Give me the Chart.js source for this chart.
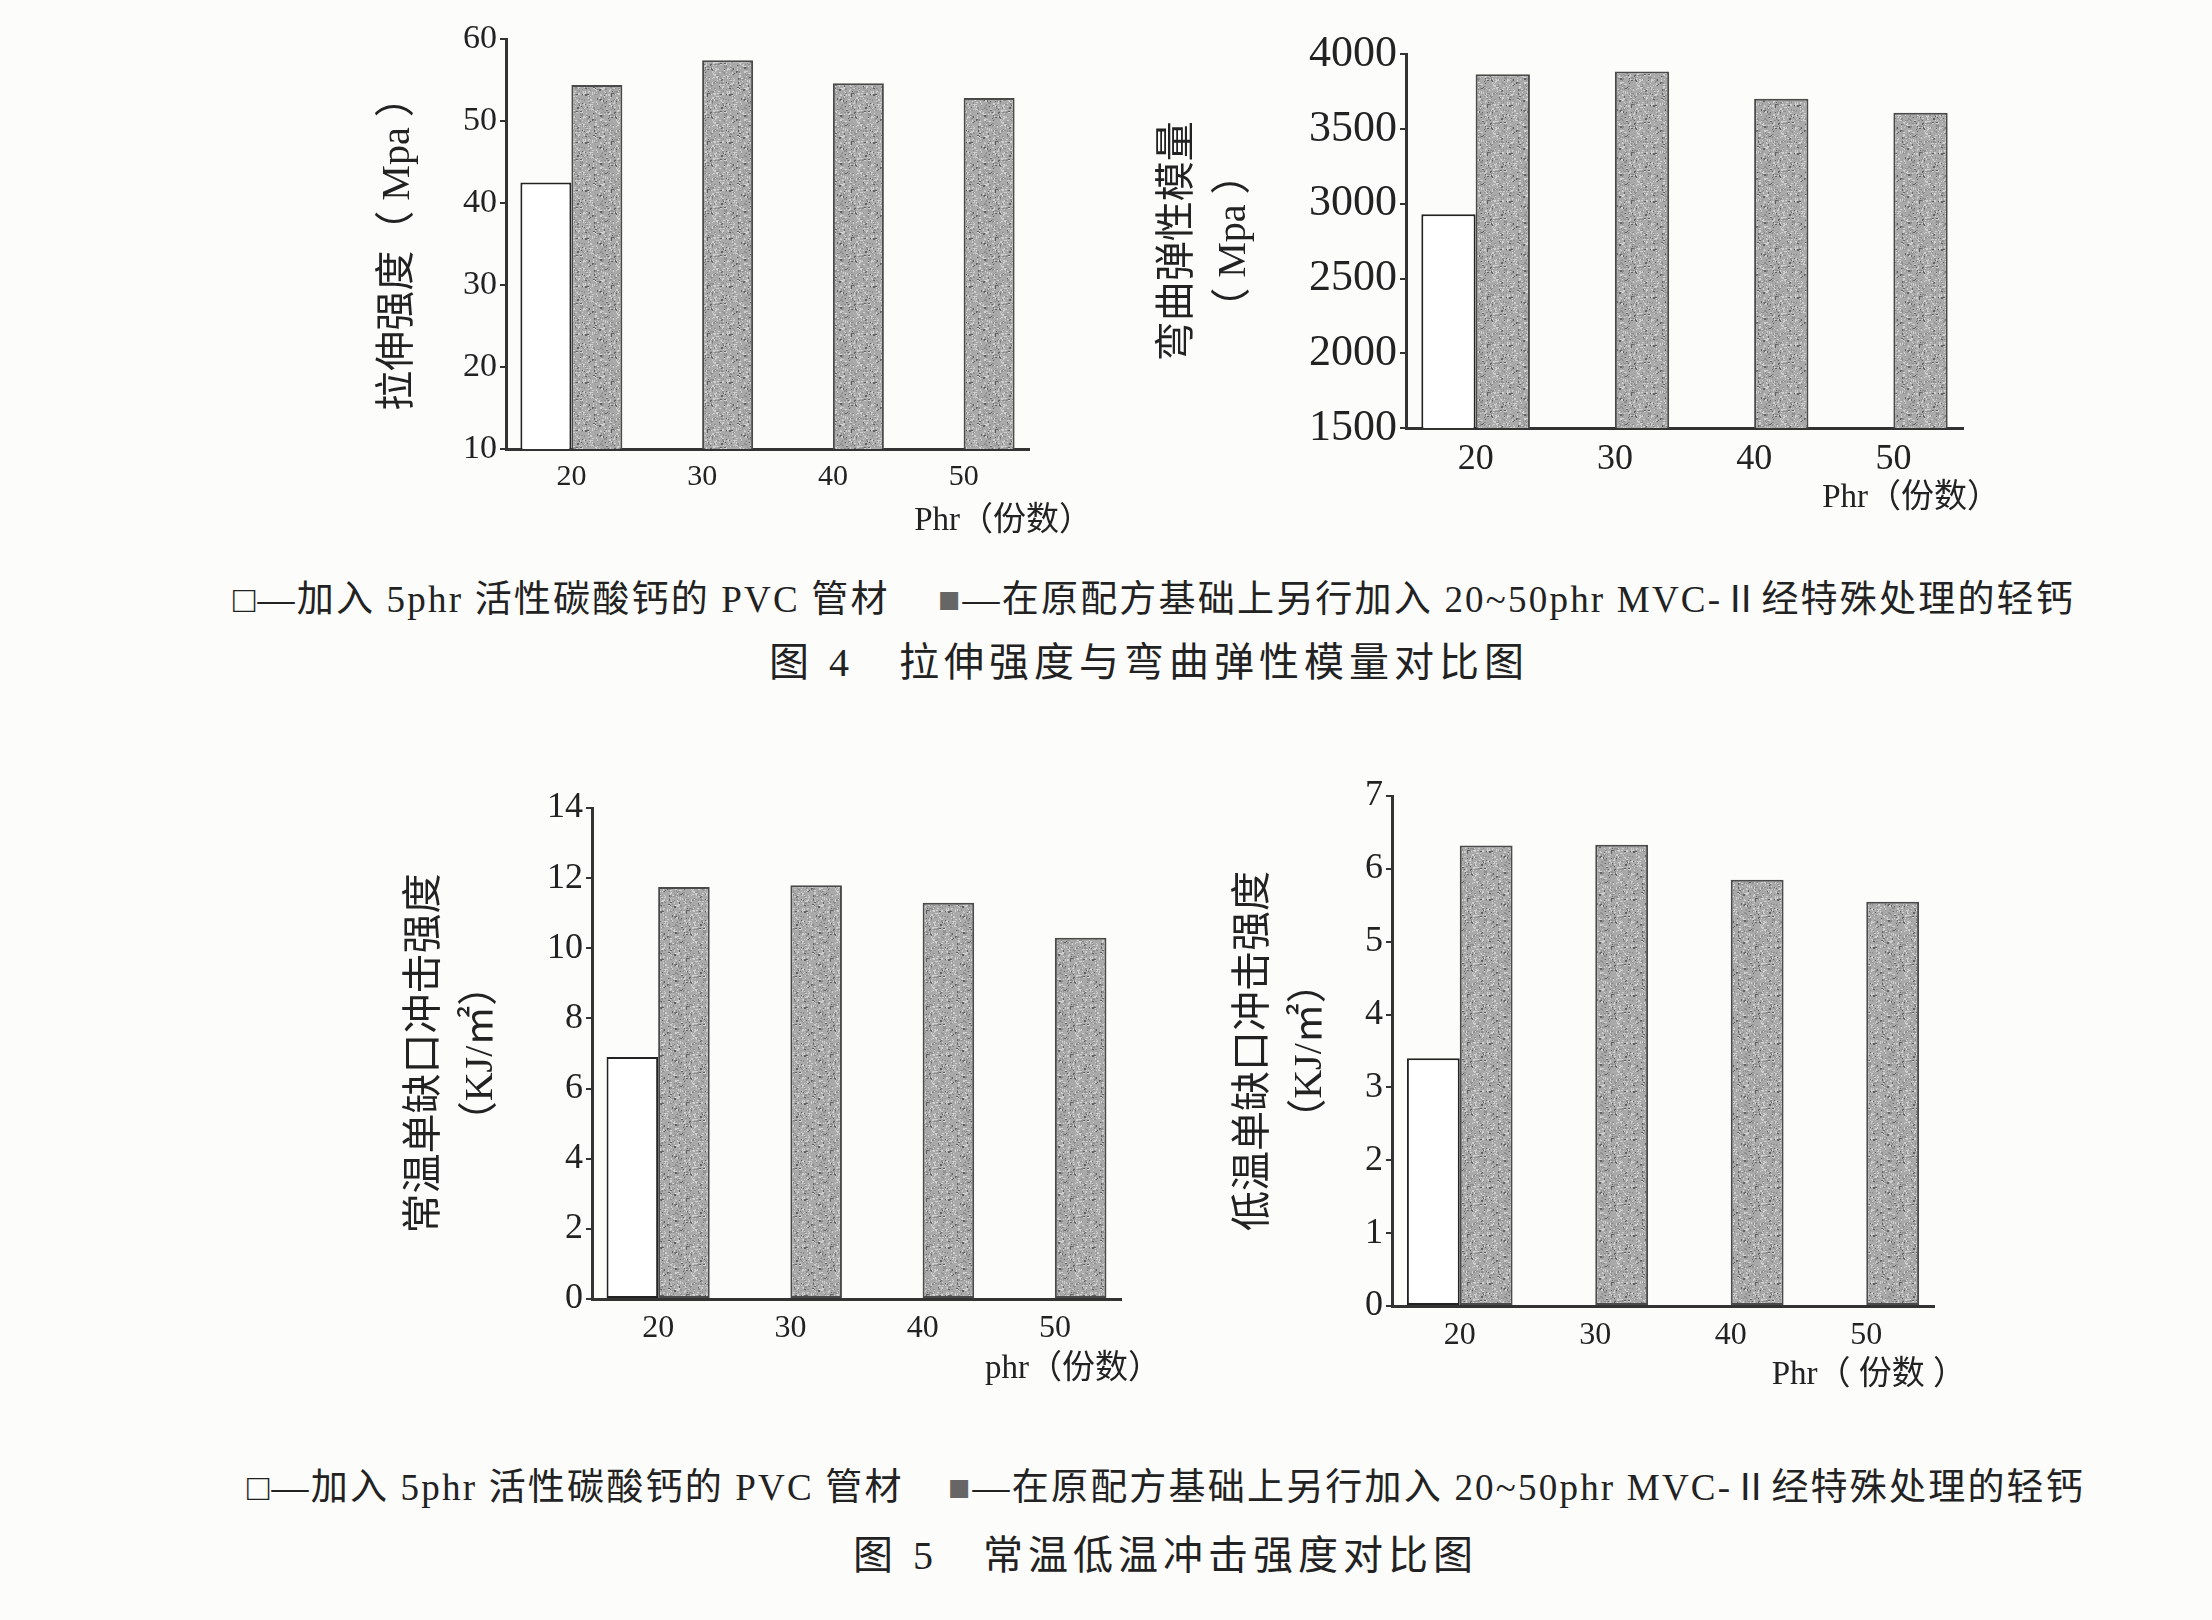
<!DOCTYPE html>
<html>
<head>
<meta charset="utf-8">
<script src="https://cdn.jsdelivr.net/npm/chart.js@4.4.1/dist/chart.umd.min.js"></script>
<style>
  body { margin: 0; width: 2212px; height: 1620px; background: #fcfcfb; position: relative; overflow: hidden;
         font-family: "Liberation Serif", "Noto Sans CJK SC", serif; color: #222; }
  canvas { position: absolute; }
  .note { position: absolute; font-size: 37px; letter-spacing: 2.2px; white-space: nowrap; line-height: 1; }
  .cap { position: absolute; font-size: 40px; white-space: nowrap; letter-spacing: 5px; line-height: 1; }
  .sq { color: #666; }
</style>
</head>
<body>
<canvas id="c1"></canvas>
<canvas id="c2"></canvas>
<canvas id="c3"></canvas>
<canvas id="c4"></canvas>

<div class="note" style="left:233px; top:581px;">□—加入 5phr 活性碳酸钙的 PVC 管材</div>
<div class="note" style="left:938px; top:581px;"><span class="sq">■</span>—在原配方基础上另行加入 20~50phr MVC-Ⅱ经特殊处理的轻钙</div>
<div class="cap" style="left:769px; top:643px;">图 4&nbsp;&nbsp;&nbsp;拉伸强度与弯曲弹性模量对比图</div>

<div class="note" style="left:247px; top:1469px;">□—加入 5phr 活性碳酸钙的 PVC 管材</div>
<div class="note" style="left:948px; top:1469px;"><span class="sq">■</span>—在原配方基础上另行加入 20~50phr MVC-Ⅱ经特殊处理的轻钙</div>
<div class="cap" style="left:853px; top:1536px;">图 5&nbsp;&nbsp;&nbsp;常温低温冲击强度对比图</div>

<script>
// categories (filler dosage, phr)
const phr = ['20', '30', '40', '50'];

// fig 4 left: tensile strength, MPa
const tensileBase = [42.5, null, null, null];
const tensileMVC = [54.4, 57.4, 54.6, 52.8];
const tensileRange = [10, 60, 10];

// fig 4 right: flexural modulus, MPa
const flexBase = [2930, null, null, null];
const flexMVC = [3867, 3885, 3704, 3609];
const flexRange = [1500, 4000, 500];

// fig 5 left: room temperature notched impact, KJ/m2
const roomBase = [6.9, null, null, null];
const roomMVC = [11.75, 11.8, 11.3, 10.3];
const roomRange = [0, 14, 2];

// fig 5 right: low temperature notched impact, KJ/m2
const lowBase = [3.4, null, null, null];
const lowMVC = [6.32, 6.33, 5.85, 5.55];
const lowRange = [0, 7, 1];

const FONT = '"Liberation Serif", "Noto Sans CJK SC", serif';

// speckled grey like the printed screen tone
function speckle() {
  const c = document.createElement('canvas');
  c.width = c.height = 48;
  const g = c.getContext('2d');
  g.fillStyle = '#a9a9a9';
  g.fillRect(0, 0, 48, 48);
  let s = 11;
  const rnd = () => (s = (s * 16807) % 2147483647) / 2147483647;
  for (let i = 0; i < 520; i++) {
    const r = rnd();
    g.fillStyle = r < 0.5 ? '#cfcfcf' : r < 0.85 ? '#8f8f8f' : '#626262';
    g.fillRect(Math.floor(rnd() * 48), Math.floor(rnd() * 48), rnd() < 0.3 ? 2 : 1, rnd() < 0.3 ? 2 : 1);
  }
  return g.createPattern(c, 'repeat');
}
const tone = speckle();

// x axis title sits right of the axis end, drawn by hand
const xTitlePlugin = {
  id: 'xTitle',
  afterDraw(chart, args, o) {
    const { ctx, chartArea } = chart;
    ctx.save();
    ctx.font = '33px ' + FONT;
    ctx.fillStyle = '#222';
    ctx.textAlign = 'right';
    ctx.textBaseline = 'middle';
    ctx.fillText(o.text, chartArea.right + o.dx, chartArea.bottom + o.dy);
    ctx.restore();
  }
};

function makeChart(id, base, mvc, range, yTitle, xTitle, L) {
  const lh = 40 * 1.4;
  const left = L.titleX - lh / 2;
  const top = L.top - 25;
  const cv = document.getElementById(id);
  cv.width = L.right + 90 - left;
  cv.height = L.bottom + 110 - top;
  cv.style.left = left + 'px';
  cv.style.top = top + 'px';

  new Chart(cv, {
    type: 'bar',
    data: {
      labels: phr,
      datasets: [
        { data: base, backgroundColor: '#ffffff', borderColor: '#222', borderWidth: 2, borderSkipped: false },
        { data: mvc, backgroundColor: tone, borderColor: '#4a4a4a', borderWidth: 2, borderSkipped: false }
      ]
    },
    options: {
      responsive: false,
      animation: false,
      events: [],
      layout: { padding: { top: 25, right: 90, left: 0, bottom: 0 } },
      categoryPercentage: 0.78,
      barPercentage: 1.0,
      plugins: {
        legend: { display: false },
        tooltip: { enabled: false },
        xTitle: { text: xTitle, dx: L.xdx, dy: L.xdy }
      },
      scales: {
        x: {
          grid: { display: false, drawTicks: false },
          border: { display: true, color: '#333', width: 3 },
          ticks: { color: '#222', font: { family: FONT, size: L.xFont }, padding: 10 },
          afterFit: s => { s.height = 110; }
        },
        y: {
          min: range[0], max: range[1],
          grid: { display: true, drawOnChartArea: false, tickLength: 6, color: '#333', lineWidth: 2 },
          border: { display: true, color: '#333', width: 3 },
          ticks: { stepSize: range[2], color: '#222', font: { family: FONT, size: L.yFont }, padding: 3,
                   callback: v => String(v) },
          title: { display: true, text: yTitle, color: '#222', padding: 0,
                   font: { family: FONT, size: 40, lineHeight: 1.4 } },
          afterFit: s => { s.width = L.axisX - left; }
        }
      }
    },
    plugins: [xTitlePlugin]
  });
}

makeChart('c1', tensileBase, tensileMVC, tensileRange, '拉伸强度（ Mpa ）', 'Phr（份数）',
  { axisX: 506, top: 39, bottom: 449, right: 1029, titleX: 398, yFont: 34, xFont: 30, xdx: 63, xdy: 72 });
makeChart('c2', flexBase, flexMVC, flexRange, ['弯曲弹性模量', '（ Mpa ）'], 'Phr（份数）',
  { axisX: 1406, top: 50, bottom: 428, right: 1963, titleX: 1178, yFont: 44, xFont: 36, xdx: 37, xdy: 70 });
makeChart('c3', roomBase, roomMVC, roomRange, ['常温单缺口冲击强度', '（KJ/㎡）'], 'phr（份数）',
  { axisX: 592, top: 808, bottom: 1299, right: 1121, titleX: 425, yFont: 36, xFont: 32, xdx: 40, xdy: 70 });
makeChart('c4', lowBase, lowMVC, lowRange, ['低温单缺口冲击强度', '（KJ/㎡）'], 'Phr（ 份数 ）',
  { axisX: 1392, top: 796, bottom: 1306, right: 1934, titleX: 1254, yFont: 36, xFont: 32, xdx: 32, xdy: 69 });
</script>
</body>
</html>
